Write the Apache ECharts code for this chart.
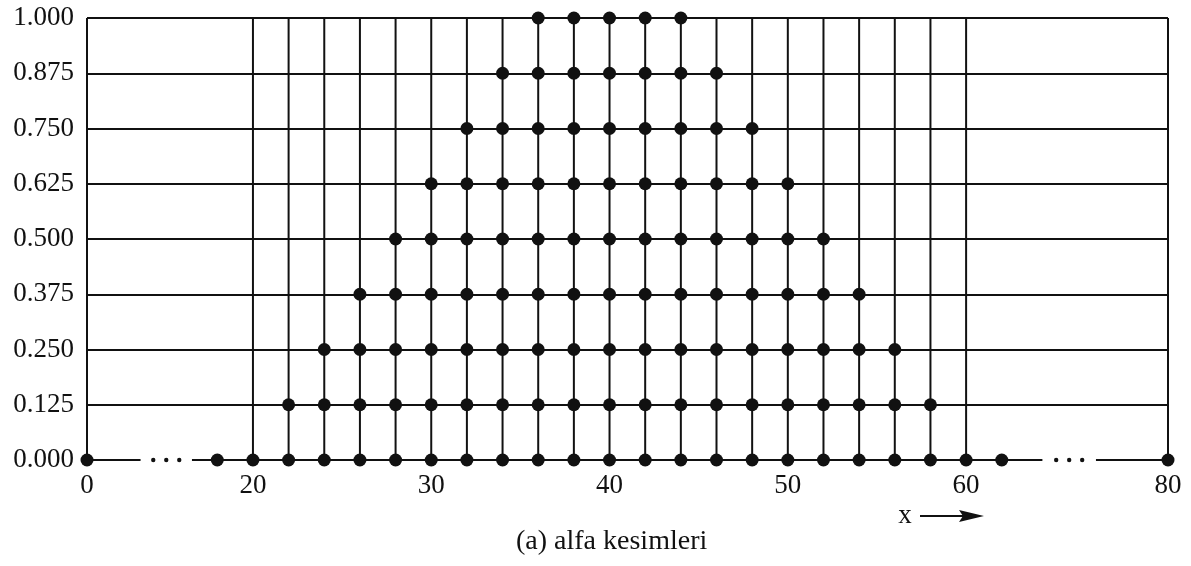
<!DOCTYPE html>
<html>
<head>
<meta charset="utf-8">
<script src="https://cdn.jsdelivr.net/npm/echarts@6/dist/echarts.min.js"></script>
<style>
html,body{margin:0;padding:0;background:#fff;}
#chart{width:1191px;height:566px;}
</style>
</head>
<body>
<div id="chart"></div>
<script>
// ---- data ----
const levels = [0, 0.125, 0.25, 0.375, 0.5, 0.625, 0.75, 0.875, 1.0];
const cut000 = [0, 18, 20, 22, 24, 26, 28, 30, 32, 34, 36, 38, 40, 42, 44, 46, 48, 50, 52, 54, 56, 58, 60, 62, 80];
const cut125 = [22, 24, 26, 28, 30, 32, 34, 36, 38, 40, 42, 44, 46, 48, 50, 52, 54, 56, 58];
const cut250 = [24, 26, 28, 30, 32, 34, 36, 38, 40, 42, 44, 46, 48, 50, 52, 54, 56];
const cut375 = [26, 28, 30, 32, 34, 36, 38, 40, 42, 44, 46, 48, 50, 52, 54];
const cut500 = [28, 30, 32, 34, 36, 38, 40, 42, 44, 46, 48, 50, 52];
const cut625 = [30, 32, 34, 36, 38, 40, 42, 44, 46, 48, 50];
const cut750 = [32, 34, 36, 38, 40, 42, 44, 46, 48];
const cut875 = [34, 36, 38, 40, 42, 44, 46];
const cut1000 = [36, 38, 40, 42, 44];
const cuts = [cut000, cut125, cut250, cut375, cut500, cut625, cut750, cut875, cut1000];
const verticals = [0, 20, 22, 24, 26, 28, 30, 32, 34, 36, 38, 40, 42, 44, 46, 48, 50, 52, 54, 56, 58, 60, 80];
const xTicks = [0, 20, 30, 40, 50, 60, 80];
const xMin = 0, xMax = 80;
// broken-axis gaps (shown as "· · ·") on the baseline
const breakGaps = [[7.4, 14.5], [66.4, 72.2]];

// ---- broken axis scale: squeezed outside [18, 62] ----
const innerLo = 18, innerHi = 62, squeezeLo = 0.406, squeezeHi = 0.518;
function d(x) {
  if (x < innerLo) return innerLo - (innerLo - x) * squeezeLo;
  if (x > innerHi) return innerHi + (x - innerHi) * squeezeHi;
  return x;
}
const FONT = 'Liberation Serif, serif';
const INK = '#111';

const chart = echarts.init(document.getElementById('chart'), null, {renderer: 'canvas'});

const series = [];
// vertical grid lines
series.push({
  type: 'custom', clip: false, silent: true, z: 1,
  data: verticals.map(x => [d(x)]),
  encode: {x: 0},
  renderItem: function (params, api) {
    const v = api.value(0);
    const p0 = api.coord([v, 0]), p1 = api.coord([v, 1]);
    return {type: 'line', shape: {x1: p0[0], y1: p0[1], x2: p1[0], y2: p1[1]},
      style: {stroke: INK, lineWidth: 2}};
  }
});
// baseline segments (with gaps)
const baseSegs = [];
let start = xMin;
breakGaps.forEach(g => { baseSegs.push([d(start), d(g[0])]); start = g[1]; });
baseSegs.push([d(start), d(xMax)]);
series.push({
  type: 'custom', clip: false, silent: true, z: 1,
  data: baseSegs,
  encode: {x: [0, 1]},
  renderItem: function (params, api) {
    const p0 = api.coord([api.value(0), 0]), p1 = api.coord([api.value(1), 0]);
    return {type: 'line', shape: {x1: p0[0], y1: p0[1], x2: p1[0], y2: p1[1]},
      style: {stroke: INK, lineWidth: 2}};
  }
});
// ellipsis dots in the gaps
series.push({
  type: 'custom', clip: false, silent: true, z: 1,
  data: breakGaps.map(g => [d(g[0]), d(g[1])]),
  encode: {x: [0, 1]},
  renderItem: function (params, api) {
    const p0 = api.coord([api.value(0), 0]), p1 = api.coord([api.value(1), 0]);
    const cx = (p0[0] + p1[0]) / 2, cy = p0[1];
    return {type: 'group', children: [-13, 0, 13].map(o => ({
      type: 'circle', shape: {cx: cx + o, cy: cy, r: 2.2}, style: {fill: INK}
    }))};
  }
});
// dots for each alpha level
cuts.forEach((arr, i) => {
  series.push({
    type: 'scatter', z: 5, silent: true,
    symbol: 'circle', symbolSize: 13,
    itemStyle: {color: INK, opacity: 1},
    data: arr.map(x => [d(x), levels[i]])
  });
});

chart.setOption({
  backgroundColor: '#fff',
  animation: false,
  title: {
    text: '(a) alfa kesimleri',
    left: 516, top: 528,
    padding: 0,
    textStyle: {fontFamily: FONT, fontSize: 28, fontWeight: 'normal', color: INK}
  },
  grid: {left: 87, right: 23, top: 18, bottom: 106, containLabel: false, outerBoundsMode: 'none'},
  xAxis: {
    type: 'value', min: d(xMin), max: d(xMax),
    axisLine: {show: false}, axisTick: {show: false}, splitLine: {show: false},
    axisLabel: {
      customValues: xTicks.map(d),
      margin: 12,
      fontFamily: FONT, fontSize: 27, color: INK,
      formatter: function (v) {
        let best = xTicks[0], bd = Infinity;
        xTicks.forEach(t => { const dd = Math.abs(d(t) - v); if (dd < bd) { bd = dd; best = t; } });
        return String(best);
      }
    }
  },
  yAxis: {
    type: 'value', min: 0, max: 1, interval: 0.125,
    axisLine: {show: false}, axisTick: {show: false},
    splitLine: {show: true, showMinLine: false, lineStyle: {color: INK, width: 2}},
    axisLabel: {
      margin: 13, fontFamily: FONT, fontSize: 27, color: INK,
      formatter: v => v.toFixed(3)
    }
  },
  graphic: [
    {type: 'text', x: 905, y: 516, silent: true,
      style: {text: 'x', fontFamily: FONT, fontSize: 27, fill: INK, align: 'center', verticalAlign: 'middle'}},
    {type: 'line', silent: true, shape: {x1: 920, y1: 516, x2: 970, y2: 516}, style: {stroke: INK, lineWidth: 2}},
    {type: 'polygon', silent: true, shape: {points: [[959, 510], [984, 516], [959, 522], [963, 516]]}, style: {fill: INK}}
  ],
  series: series
});
</script>
</body>
</html>
